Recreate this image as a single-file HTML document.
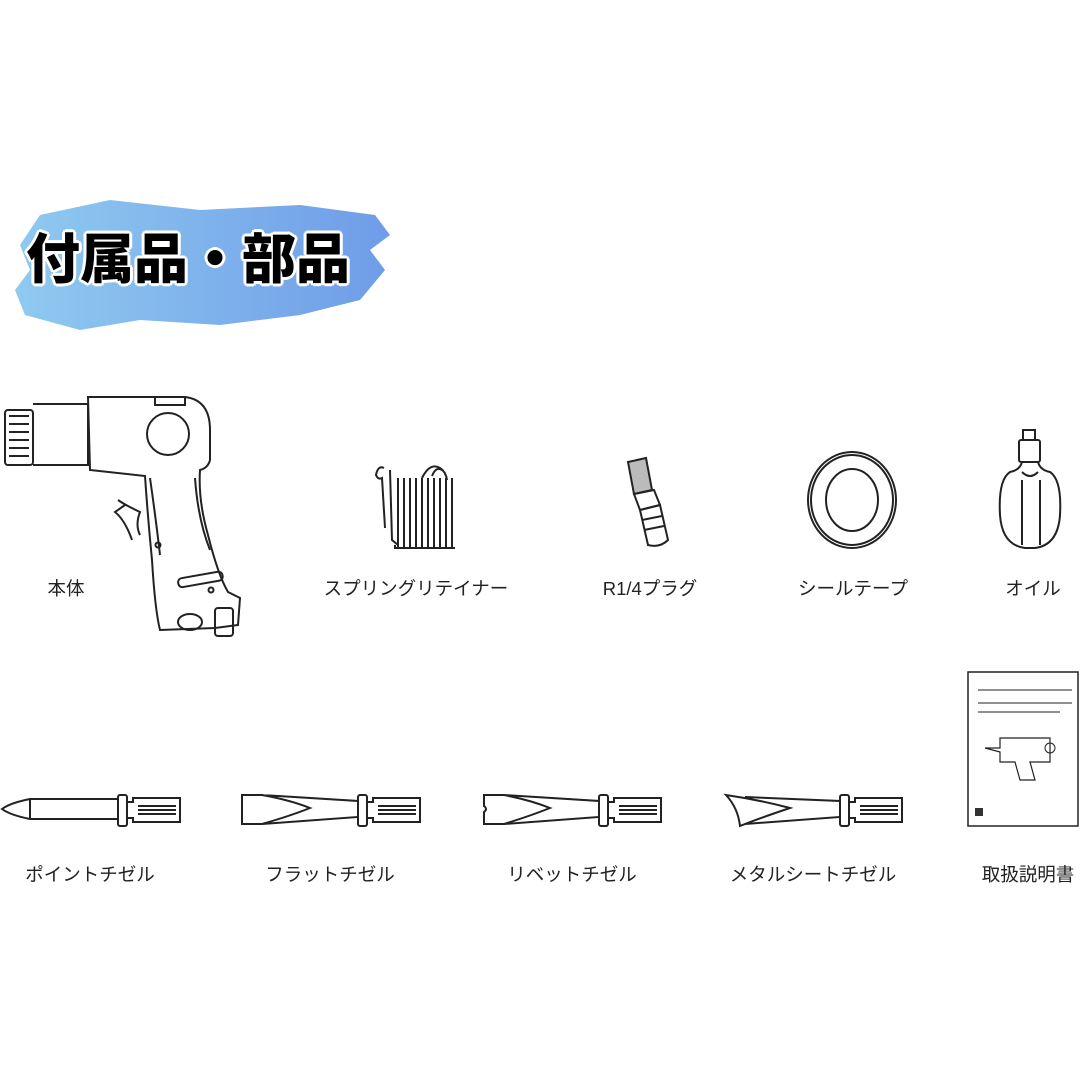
<!DOCTYPE html>
<html><head><meta charset="utf-8"><style>
body{margin:0;background:#fff;width:1080px;height:1080px;overflow:hidden;position:relative;font-family:"Liberation Sans","Noto Sans CJK JP",sans-serif}
.l{position:absolute;font-size:18.5px;color:#222;white-space:nowrap;transform:translateX(-50%)}
.h{position:absolute;left:26px;top:223px;font-size:54px;line-height:1.2;font-weight:900;color:#000;letter-spacing:0px;
text-shadow:-3px 0 #fff,3px 0 #fff,0 -3px #fff,0 3px #fff,-2px -2px #fff,2px 2px #fff,-2px 2px #fff,2px -2px #fff;font-family:"Noto Sans CJK JP",sans-serif}
svg{position:absolute;left:0;top:0}
</style></head><body>
<svg width="1080" height="1080" viewBox="0 0 1080 1080" fill="none" stroke="#222" stroke-width="2">
<defs><linearGradient id="g" x1="0" x2="1"><stop offset="0" stop-color="#8fcaf0"/><stop offset="1" stop-color="#6f9ce8"/></linearGradient></defs>
<path d="M40 215 L110 200 L200 210 L300 205 L375 215 L390 235 L370 250 L385 270 L360 300 L300 315 L220 325 L140 320 L80 330 L25 315 L15 290 L30 270 L20 245 Z" fill="url(#g)" stroke="none"/>
<!-- gun -->
<rect x="5" y="410" width="28" height="55" rx="3"/>
<path d="M9 416h20M9 424h20M9 432h20M9 440h20M9 448h20M9 456h20"/>
<path d="M33 404 H88 V465 H33"/>
<path d="M88 397 H185 Q210 400 210 430 L210 460 Q208 468 200 470 Q198 500 208 535 Q218 575 228 592 L240 598 L238 625 L215 628 L160 630 Q155 610 152 560 Q148 520 145 476 L90 470 Z"/>
<circle cx="168" cy="434" r="21"/>
<path d="M155 397 v8 h30 v-8"/>
<path d="M150 478 Q156 520 160 555 M195 478 Q198 520 210 550"/>
<rect x="178" y="575" width="45" height="9" rx="4" transform="rotate(-10 200 580)"/>
<path d="M118 500 Q125 505 140 512 Q135 525 140 535 M125 505 L115 512 Q125 520 132 540"/>
<circle cx="158" cy="545" r="2.5"/><circle cx="211" cy="590" r="2.5"/>
<rect x="215" y="608" width="18" height="28" rx="3"/><ellipse cx="190" cy="622" rx="12" ry="8"/>
<!-- spring -->
<path d="M384 468 Q378 465 376 475 Q378 480 382 478 L385 528 M390 470 L392 540 L398 545 M395 545 L395 548 H455"/>
<path d="M398 478 V548 M404 478 V548 M410 478 V548 M416 478 V548 M422 478 V548 M428 478 V548 M434 478 V548 M440 478 V548 M446 478 V548 M452 478 V548"/>
<path d="M422 478 Q430 462 440 468 Q446 472 447 480 M432 476 Q436 466 442 470"/>
<!-- plug -->
<path d="M628 462 L646 458 L652 490 L634 494 Z" fill="#bbb"/>
<path d="M634 494 L654 490 L660 505 L640 510 Z"/>
<path d="M640 510 L660 505 L668 540 Q660 548 648 545 Z"/>
<path d="M642 520 L662 516 M644 530 L664 526"/>
<!-- tape -->
<ellipse cx="852" cy="500" rx="44" ry="48"/><ellipse cx="852" cy="500" rx="41" ry="45"/>
<ellipse cx="852" cy="500" rx="26" ry="31"/>
<!-- oil -->
<rect x="1023" y="430" width="12" height="10"/>
<rect x="1019" y="440" width="21" height="22" rx="2"/>
<path d="M1022 462 Q1020 470 1010 472 Q998 480 1000 515 Q1002 545 1025 548 H1035 Q1058 545 1060 515 Q1062 480 1050 472 Q1040 470 1038 462"/>
<path d="M1022 472 Q1030 480 1038 472 M1022 480 V545 M1040 480 V545"/>
<!-- chisels -->
<g id="sh"><rect x="118" y="795" width="9" height="31" rx="2"/><path d="M127 802 H133 V798 H180 V822 H133 V818 H127"/><path d="M138 806 H176 M138 810 H176 M138 814 H176"/></g>
<path d="M30 799 H118 V819 H30 Q10 815 2 809 Q10 803 30 799 Z M30 799 V819"/>
<use href="#sh" x="240"/>
<path d="M242 795 H262 Q290 800 310 808 Q290 816 262 824 H242 Z M262 795 L358 801 V817 L262 824"/>
<use href="#sh" x="481"/>
<path d="M484 795 H504 Q530 800 550 808 Q530 816 504 824 H484 V812 Q488 809 484 806 Z M504 795 L599 801 V817 L504 824"/>
<use href="#sh" x="722"/>
<path d="M726 795 Q760 800 790 808 Q760 818 740 826 Q738 808 726 795 Z M745 797 L840 801 V817 L745 824"/>
<!-- manual -->
<rect x="968" y="672" width="110" height="154" stroke-width="1.5"/>
<path d="M978 690 H1072 M978 703 H1072 M978 712 H1060" stroke-width="1"/>
<path d="M985 748 H1000 V738 H1050 V762 H1030 L1035 780 H1020 L1015 762 H1000 V752 Z" stroke-width="1.2"/>
<circle cx="1050" cy="748" r="5" stroke-width="1"/>
<rect x="975" y="808" width="8" height="8" fill="#333" stroke="none"/>
</svg>
<div class="h">付属品・部品</div>
<div class="l" style="left:66px;top:575px">本体</div>
<div class="l" style="left:416px;top:575px">スプリングリテイナー</div>
<div class="l" style="left:650px;top:575px">R1/4プラグ</div>
<div class="l" style="left:853px;top:575px">シールテープ</div>
<div class="l" style="left:1033px;top:575px">オイル</div>
<div class="l" style="left:90px;top:861px">ポイントチゼル</div>
<div class="l" style="left:330px;top:861px">フラットチゼル</div>
<div class="l" style="left:572px;top:861px">リベットチゼル</div>
<div class="l" style="left:813px;top:861px">メタルシートチゼル</div>
<div class="l" style="left:1028px;top:861px">取扱説明書</div>
</body></html>
